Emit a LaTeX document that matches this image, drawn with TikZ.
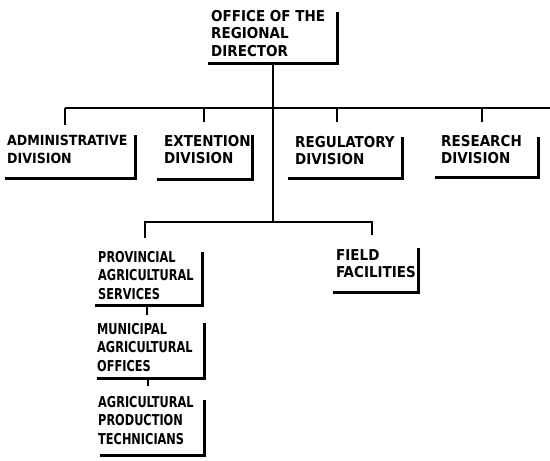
\documentclass[tikz,border=0pt]{standalone}
\usepackage{fontspec}
\newfontfamily\lbfont{DejaVu Sans Condensed}[BoldFont={DejaVu Sans Condensed Bold}]
\newfontfamily\lbnarrow{DejaVu Sans Condensed Bold}[FakeStretch=0.84]
\begin{document}
\begin{tikzpicture}[x=1pt,y=-1pt,
  frame/.style 2 args={minimum width=#1, minimum height=#2, inner sep=0pt, outer sep=0pt, anchor=north west},
  bracket/.style={line width=3pt},
  conn/.style={line width=2pt},
  lbl/.style={anchor=north west, inner sep=0pt, align=left, font=\lbfont\bfseries\fontsize{15}{17.5}\selectfont},
  small/.style={font=\lbfont\bfseries\fontsize{14}{17.5}\selectfont},
  narrow/.style={font=\lbnarrow\fontsize{15}{18.5}\selectfont}]
\fill[white] (0,0) rectangle (550,461);
\useasboundingbox (0,0) rectangle (550,461);
% boxes
\node[frame={129}{51}] (top) at (208,12) {};
\node[frame={130}{43}] (adm) at (5,135) {};
\node[frame={95}{44}] (ext) at (157,135) {};
\node[frame={114}{41}] (reg) at (288,137) {};
\node[frame={103}{40}] (res) at (435,137) {};
\node[frame={107}{53}] (prov) at (95,252) {};
\node[frame={107}{55}] (mun) at (97,323) {};
\node[frame={104}{55}] (tech) at (100,400) {};
\node[frame={85}{44}] (fld) at (333,248) {};
\foreach \b in {top,adm,ext,reg,res,prov,mun,tech,fld}
  \draw[bracket] (\b.north east) -- (\b.south east) -- (\b.south west);
% labels
\node[lbl] (ttop) at (211,10) {OFFICE OF THE\\REGIONAL\\DIRECTOR};
\node[lbl,small] (tadm) at (7,135) {ADMINISTRATIVE\\DIVISION};
\node[lbl] (text) at (164,135) {EXTENTION\\DIVISION};
\node[lbl] (treg) at (295,136) {REGULATORY\\DIVISION};
\node[lbl] (tres) at (441,135) {RESEARCH\\DIVISION};
\node[lbl,narrow] (tprov) at (98,251) {PROVINCIAL\\AGRICULTURAL\\SERVICES};
\node[lbl,narrow] (tmun) at (97,323) {MUNICIPAL\\AGRICULTURAL\\OFFICES};
\node[lbl,narrow] (ttech) at (98,396) {AGRICULTURAL\\PRODUCTION\\TECHNICIANS};
\node[lbl] (tfld) at (336,249) {FIELD\\FACILITIES};
% connectors
\coordinate (j2) at (top.south |- 0,222);
\coordinate (busL) at (65,108);
\coordinate (busR) at (550,108);
\draw[conn] (top.south) -- (j2);
\draw[conn] (busL) -- (busR);
\draw[conn] (busL) -- (65,125);
\draw[conn] (204,108) -- (204,122);
\draw[conn] (337,108) -- (337,122);
\draw[conn] (482,108) -- (482,122);
\draw[conn] (145,238) -- (145,222) -- (372,222) -- (372,235);
\draw[conn] ([xshift=52pt]prov.south west) -- ++(0,10);
\draw[conn] ([xshift=51pt]mun.south west) -- ++(0,8);
\end{tikzpicture}
\end{document}
